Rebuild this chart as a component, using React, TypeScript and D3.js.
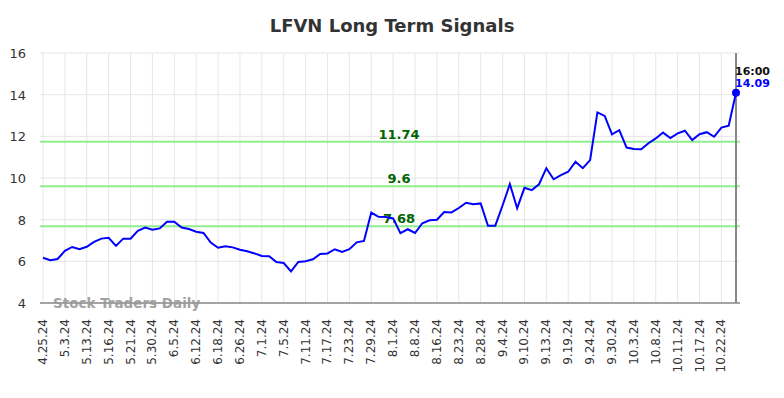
import React from "react";
import * as d3 from "d3";

const tickLabels = ["4.25.24","5.3.24","5.13.24","5.16.24","5.21.24","5.30.24","6.5.24","6.12.24","6.18.24","6.26.24","7.1.24","7.5.24","7.11.24","7.17.24","7.23.24","7.29.24","8.1.24","8.8.24","8.16.24","8.23.24","8.28.24","9.4.24","9.10.24","9.13.24","9.19.24","9.24.24","9.30.24","10.3.24","10.8.24","10.11.24","10.17.24","10.22.24"];

const prices = [
  6.17, 6.05, 6.11, 6.5, 6.69, 6.58, 6.7, 6.93, 7.09, 7.13,
  6.74, 7.09, 7.09, 7.46, 7.62, 7.52, 7.58, 7.9, 7.9, 7.62,
  7.55, 7.42, 7.36, 6.9, 6.65, 6.72, 6.67, 6.56, 6.48, 6.38,
  6.26, 6.24, 5.97, 5.92, 5.52, 5.97, 6.0, 6.1, 6.35, 6.38,
  6.58, 6.45, 6.58, 6.91, 6.98, 8.34, 8.14, 8.13, 8.06, 7.35,
  7.54, 7.36, 7.83, 7.97, 8.0, 8.37, 8.35, 8.56, 8.81, 8.74,
  8.78, 7.71, 7.71, 8.68, 9.71, 8.55, 9.53, 9.42, 9.7, 10.47,
  9.94, 10.14, 10.3, 10.78, 10.47, 10.86, 13.15, 12.98, 12.1, 12.3,
  11.46, 11.39, 11.38, 11.67, 11.9, 12.18, 11.92, 12.14, 12.27, 11.82,
  12.1, 12.2, 11.98, 12.42, 12.51, 14.09
];

const signalLevels = [11.74, 9.6, 7.68];
const yTicks = [4, 6, 8, 10, 12, 14, 16];

export default function App() {
  const W = 784, H = 398;
  const x = d3.scaleLinear().domain([0, prices.length - 1]).range([43, 736]);
  const y = d3.scaleLinear().domain([4, 16]).range([303, 53]);
  const line = d3.line<number>().x((_, i) => x(i)).y((d) => y(d));
  const last = prices.length - 1;
  const font = "'DejaVu Sans', sans-serif";
  return (
    <svg width={W} height={H} style={{ position: "absolute", left: 0, top: 0 }} fontFamily={font}>
      <rect width={W} height={H} fill="#fff" />
      <text x={392} y={32} textAnchor="middle" fontSize={18} fontWeight="bold" fill="#333">LFVN Long Term Signals</text>
      {yTicks.map((t) => (
        <g key={t}>
          <line x1={40} x2={740} y1={y(t)} y2={y(t)} stroke="#e6e6e6" strokeWidth={1} />
          <text x={26} y={y(t) + 5} textAnchor="end" fontSize={13} fill="#333">{t}</text>
        </g>
      ))}
      {tickLabels.map((lab, k) => {
        const xx = x(k * 3);
        return (
          <g key={lab}>
            <line x1={xx} x2={xx} y1={53} y2={303} stroke="#e6e6e6" strokeWidth={1} />
            <text transform={`translate(${xx + 4},${319}) rotate(-90)`} textAnchor="end" fontSize={12} fill="#333">{lab}</text>
          </g>
        );
      })}
      <line x1={40} x2={740} y1={303} y2={303} stroke="#555" strokeWidth={1} />
      {signalLevels.map((s) => (
        <g key={s}>
          <line x1={40} x2={740} y1={y(s)} y2={y(s)} stroke="#90ee90" strokeWidth={2} />
          <text x={399} y={y(s) - 3} textAnchor="middle" fontSize={13} fontWeight="bold" fill="#006400">{String(s)}</text>
        </g>
      ))}
      <text x={53} y={308} fontSize={13.5} fontWeight="bold" fill="#999" opacity={0.9}>Stock Traders Daily</text>
      <line x1={736} x2={736} y1={53} y2={303} stroke="#888" strokeWidth={2} />
      <path d={line(prices) || ""} fill="none" stroke="#0000ff" strokeWidth={2} />
      <circle cx={x(last)} cy={y(prices[last])} r={4} fill="#0000ff" />
      <text x={735} y={75} fontSize={11} fontWeight="bold" fill="#111">16:00</text>
      <text x={735} y={87} fontSize={11} fontWeight="bold" fill="#0000ff">{prices[last].toFixed(2)}</text>
    </svg>
  );
}
